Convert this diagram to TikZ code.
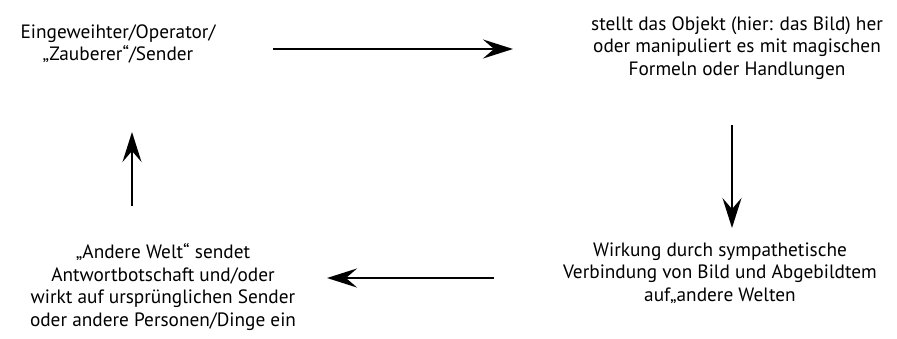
\documentclass[tikz,border=0pt]{standalone}
\usepackage{fontspec}
\setmainfont{PT Sans}
\usetikzlibrary{arrows.meta}
\begin{document}
\begin{tikzpicture}[x=1pt,y=-1pt,
  lbl/.style={align=center,font=\fontsize{19.3}{22.5}\selectfont,inner sep=0pt},
  conn/.style={line width=2.4pt,-{Stealth[length=30pt,width=19pt,inset=11pt]}}]
\useasboundingbox (0,0) rectangle (897,338);
\node[lbl] (a) at (118,44) {Eingeweihter/Operator/\\„Zauberer“/Sender};
\node[lbl] (b) at (737,48) {stellt das Objekt (hier: das Bild) her\\oder manipuliert es mit magischen\\Formeln oder Handlungen};
\node[lbl] (c) at (720,273) {Wirkung durch sympathetische\\Verbindung von Bild und Abgebildtem\\auf„andere Welten};
\node[lbl] (d) at (163,287) {„Andere Welt“ sendet\\Antwortbotschaft und/oder\\wirkt auf ursprünglichen Sender\\oder andere Personen/Dinge ein};
\coordinate (a1) at (273,49);
\coordinate (b1) at (513,49);
\coordinate (b2) at (732,125);
\coordinate (c1) at (732,228);
\coordinate (c2) at (494,278);
\coordinate (d1) at (327,278);
\coordinate (d2) at (132,206);
\coordinate (a2) at (132,132);
\draw[conn] (a1) -- (b1);
\draw[conn] (b2) -- (c1);
\draw[conn] (c2) -- (d1);
\draw[conn] (d2) -- (a2);
\end{tikzpicture}
\end{document}
